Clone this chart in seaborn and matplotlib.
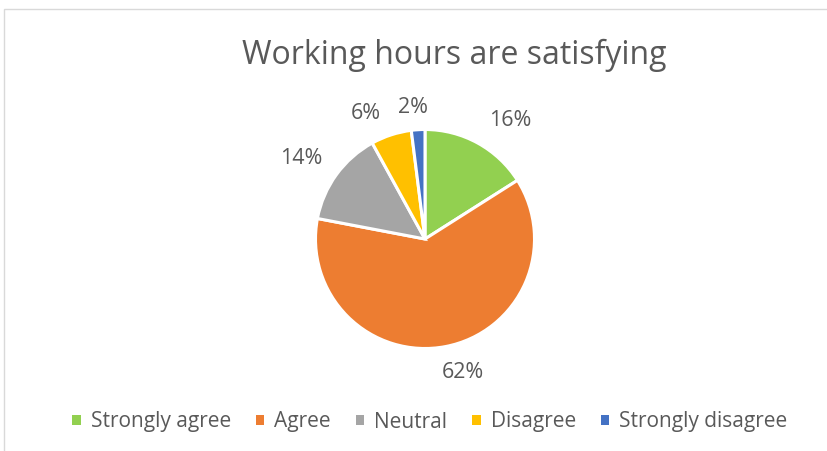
import matplotlib
matplotlib.use("Agg")
import matplotlib.pyplot as plt
from matplotlib.patches import Rectangle
import numpy as np
import seaborn as sns

# Survey responses
categories = ["Strongly agree", "Agree", "Neutral", "Disagree", "Strongly disagree"]
shares = [16, 62, 14, 6, 2]
colors = ["#92D050", "#ED7D31", "#A5A5A5", "#FFC000", "#4472C4"]

# label placement: radial distance (in radii) and clockwise angular nudge (deg)
label_dist = [1.33, 1.27, 1.35, 1.27, 1.21]
label_nudge = [7.0, -5.0, -3.2, -7.1, -1.6]

title = "Working hours are satisfying"
text_color = "#595959"

sns.set_theme(style="white")
plt.rcParams["font.family"] = ["Open Sans", "DejaVu Sans"]

W, H = 828, 451
fig = plt.figure(figsize=(W / 100, H / 100), dpi=100)
fig.patch.set_facecolor("white")

# chart frame (left and top edges visible)
fig.patches.append(Rectangle((4 / W, -0.1), 1.2, (H - 9) / H + 0.1,
                             transform=fig.transFigure, fill=False,
                             edgecolor="#D9D9D9", linewidth=1.0))

cx, cy, r = 425, 239, 109.5
half = 1.5 * r
ax = fig.add_axes([(cx - half) / W, (H - cy - half) / H, 2 * half / W, 2 * half / H])

wedges, _ = ax.pie(shares, colors=colors, startangle=90, counterclock=False,
                   radius=1.0, wedgeprops=dict(edgecolor="white", linewidth=2.2))
ax.set_xlim(-1.5, 1.5)
ax.set_ylim(-1.5, 1.5)
ax.set_aspect("equal")
ax.axis("off")

for w, v, d, nudge in zip(wedges, shares, label_dist, label_nudge):
    ang = np.deg2rad((w.theta1 + w.theta2) / 2 - nudge)
    ax.text(d * np.cos(ang), d * np.sin(ang), f"{v}%", ha="center", va="center",
            fontsize=15.5, color=text_color)

fig.text(454 / W, 1 - 64 / H, title, ha="center", va="baseline",
         fontsize=23, color=text_color)

leg = fig.legend(wedges, categories, loc="center", bbox_to_anchor=(430 / W, 1 - 422 / H),
                 ncol=5, frameon=False, handlelength=0.4, handleheight=0.4,
                 handletextpad=0.48, columnspacing=1.2, fontsize=15,
                 labelcolor=text_color)
for h in leg.legend_handles:
    h.set_edgecolor("none")

fig.savefig("out.png", dpi=100, facecolor="white")
